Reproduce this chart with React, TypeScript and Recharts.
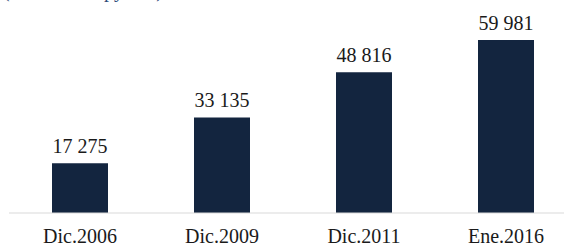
import React from 'react';
import { BarChart, Bar, XAxis, YAxis, LabelList } from 'recharts';

const periods = ['Dic.2006', 'Dic.2009', 'Dic.2011', 'Ene.2016'];
const counts = [17275, 33135, 48816, 59981];

const BAR_COLOR = '#13253f';
const TEXT_COLOR = '#1a1a1a';
const FONT = '"Liberation Serif", "DejaVu Serif", serif';

const formatThousands = (v: number) =>
  String(v).replace(/\B(?=(\d{3})+(?!\d))/g, ' ');

const App: React.FC = () => {
  const chartData = periods.map((period, i) => ({ period, value: counts[i] }));

  return (
    <div
      style={{
        position: 'fixed',
        left: 0,
        top: 0,
        width: 564,
        height: 245,
        overflow: 'hidden',
        background: '#fff',
        fontFamily: FONT,
      }}
    >
      {/* title, mostly cut off at the top edge */}
      <svg width={200} height={10} style={{ position: 'absolute', left: 0, top: 0 }}>
        <text x={3} y={-3} fontSize={20} fill="#2e4a7a" fontFamily={FONT}>
          (Número de pymes)
        </text>
      </svg>
      <BarChart
        width={580}
        height={245}
        data={chartData}
        margin={{ top: 11, right: 3, left: 9, bottom: 0 }}
        barSize={56}
      >
        <XAxis
          dataKey="period"
          height={32}
          tickLine={false}
          tickSize={0}
          tickMargin={16}
          axisLine={{ stroke: '#d9d9d9', strokeWidth: 1 }}
          tick={{ fill: TEXT_COLOR, fontSize: 20, fontFamily: FONT }}
          interval={0}
        />
        <YAxis hide domain={[0, 70000]} />
        <Bar dataKey="value" fill={BAR_COLOR} isAnimationActive={false}>
          <LabelList
            dataKey="value"
            position="top"
            offset={10}
            formatter={(v: number) => formatThousands(v)}
            style={{ fill: TEXT_COLOR, fontSize: 20, fontFamily: FONT }}
          />
        </Bar>
      </BarChart>
    </div>
  );
};

export default App;
